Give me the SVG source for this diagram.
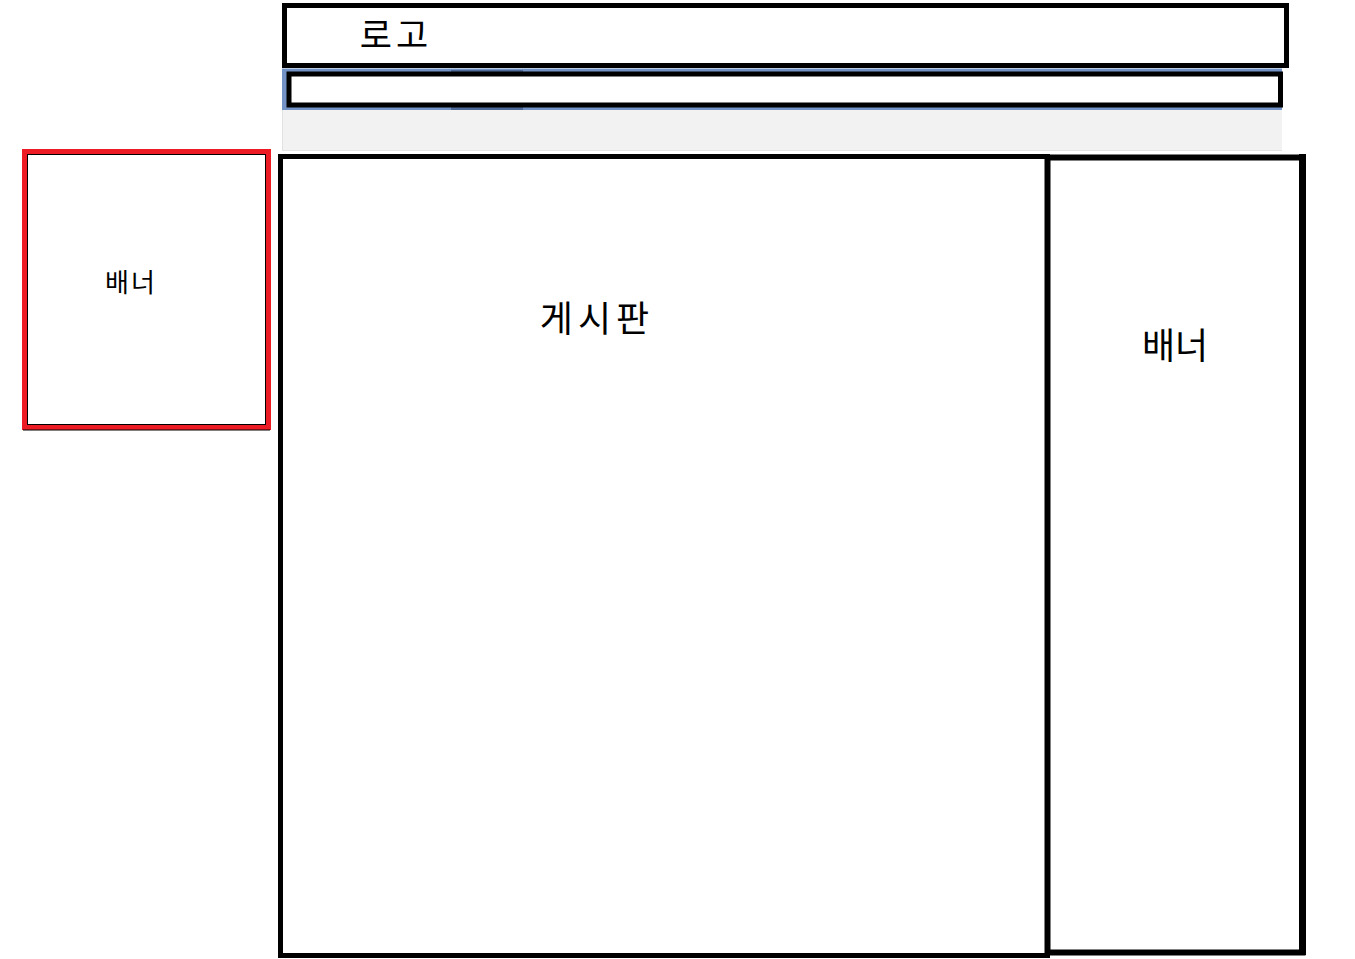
<svg xmlns="http://www.w3.org/2000/svg" width="1355" height="959" viewBox="0 0 1355 959">
<style>
.box{fill:#fff;stroke:#000;stroke-width:5}
.lbl{font-family:"Noto Sans CJK KR","Noto Sans",sans-serif;fill:#000;text-anchor:middle}
</style>
<rect width="1355" height="959" fill="#fff"/>
<g id="logo">
<rect class="box" x="284.5" y="5.5" width="1002" height="60"/>
<text class="lbl" x="396" y="48" font-size="35" letter-spacing="4">로고</text>
</g>
<g id="nav">
<rect x="282" y="110" width="1000" height="41" fill="#f2f2f2"/>
<line x1="282" y1="150.5" x2="1282" y2="150.5" stroke="#e2e2e2" stroke-width="1"/>
<line x1="282.5" y1="110" x2="282.5" y2="151" stroke="#e2e2e2" stroke-width="1"/>
<rect x="282" y="68.5" width="1000" height="41.5" fill="#7393c6"/>
<rect x="451" y="70" width="72" height="40" fill="#4f6a98"/>
<rect x="289" y="74" width="991.5" height="31" fill="#fff" stroke="#000" stroke-width="5"/>
</g>
<g id="banner-left">
<rect x="24.5" y="151.5" width="244" height="276" fill="#fff" stroke="#ed1c24" stroke-width="5"/>
<rect x="27.5" y="154.5" width="238" height="270" fill="none" stroke="#000" stroke-width="1"/>
<line x1="23" y1="430" x2="270" y2="430" stroke="#000" stroke-width="1"/>
<text class="lbl" x="131" y="292" font-size="26" letter-spacing="2">배너</text>
</g>
<g id="board">
<rect class="box" x="280.5" y="156.5" width="767" height="799"/>
<text class="lbl" x="597" y="332" font-size="36" letter-spacing="5">게시판</text>
</g>
<g id="banner-right">
<rect x="1047.5" y="157.5" width="255" height="795" fill="#fff" stroke="#000" stroke-width="6"/>
<line x1="1302.5" y1="154" x2="1302.5" y2="955" stroke="#000" stroke-width="7"/>
<text class="lbl" x="1175" y="359" font-size="36">배너</text>
</g>
<g id="connectors"/>
</svg>
